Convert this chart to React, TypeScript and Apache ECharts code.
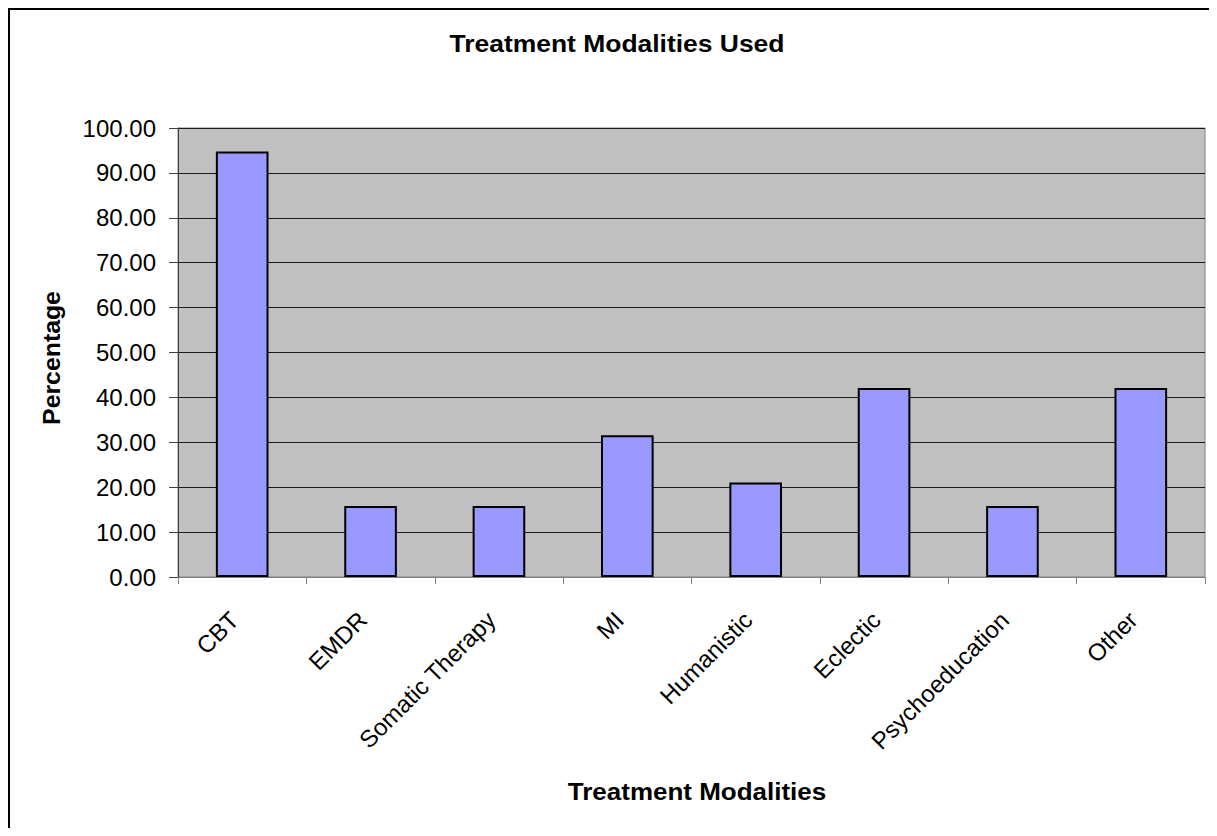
import React, { useEffect, useRef } from "react";
import * as echarts from "echarts";

const categories = [
  "CBT",
  "EMDR",
  "Somatic Therapy",
  "MI",
  "Humanistic",
  "Eclectic",
  "Psychoeducation",
  "Other",
];
const percentages = [94.74, 15.79, 15.79, 31.58, 21.05, 42.11, 15.79, 42.11];
const chartTitle = "Treatment Modalities Used";
const xTitle = "Treatment Modalities";
const yTitle = "Percentage";

const FONT = "'Liberation Sans', Arial, sans-serif";

export default function App() {
  const ref = useRef<HTMLDivElement>(null);
  useEffect(() => {
    if (!ref.current) return;
    const chart = echarts.init(ref.current, undefined, { renderer: "svg" });
    chart.setOption({
      animation: false,
      backgroundColor: "#ffffff",
      grid: {
        left: 168,
        top: 118,
        width: 1027,
        height: 449,
        show: true,
        backgroundColor: "#C0C0C0",
        borderColor: "#808080",
        borderWidth: 1,
        containLabel: false,
      },
      graphic: [
        {
          type: "text",
          x: 607,
          y: 34,
          scaleX: 1.15,
          style: {
            text: chartTitle,
            font: `bold 23px ${FONT}`,
            fill: "#000",
            align: "center",
            verticalAlign: "middle",
          },
        },
        {
          type: "text",
          x: 687,
          y: 782,
          scaleX: 1.13,
          style: {
            text: xTitle,
            font: `bold 23px ${FONT}`,
            fill: "#000",
            align: "center",
            verticalAlign: "middle",
          },
        },
        {
          type: "text",
          x: 42,
          y: 348,
          rotation: Math.PI / 2,
          scaleX: 1.08,
          style: {
            text: yTitle,
            font: `bold 23px ${FONT}`,
            fill: "#000",
            align: "center",
            verticalAlign: "middle",
          },
        },
      ],
      xAxis: {
        type: "category",
        data: categories,
        axisLine: { show: true, lineStyle: { color: "#808080", width: 1 } },
        axisTick: { show: true, length: 7, lineStyle: { color: "#808080" } },
        axisLabel: {
          rotate: 45,
          margin: 31,
          padding: [0, 11, 0, 0],
          fontSize: 24,
          fontFamily: FONT,
          color: "#000",
          interval: 0,
        },
        splitLine: { show: false },
      },
      yAxis: {
        type: "value",
        min: 0,
        max: 100,
        interval: 10,
        axisLine: { show: true, lineStyle: { color: "#404040", width: 1 } },
        axisTick: { show: true, length: 9, lineStyle: { color: "#404040" } },
        axisLabel: {
          margin: 22,
          fontSize: 24,
          fontFamily: FONT,
          color: "#000",
          formatter: (v: number) => v.toFixed(2),
        },
        splitLine: { show: true, lineStyle: { color: "#1a1a1a", width: 1 } },
      },
      series: [
        {
          type: "bar",
          data: percentages,
          barCategoryGap: "59%",
          itemStyle: {
            color: "#9999FF",
            borderColor: "#000",
            borderWidth: 2,
          },
        },
      ],
    });
    return () => chart.dispose();
  }, []);
  return (
    <div
      style={{
        width: 1201,
        height: 820,
        borderLeft: "2px solid #000",
        borderTop: "2px solid #000",
        boxSizing: "border-box",
        overflow: "hidden",
      }}
    >
      <div ref={ref} style={{ width: 1199, height: 818 }} />
    </div>
  );
}
